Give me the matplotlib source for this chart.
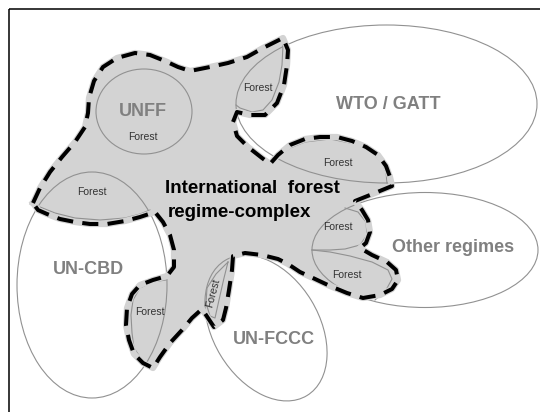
import matplotlib

matplotlib.use('Agg')

from matplotlib import pyplot as plt
from matplotlib.patches import Ellipse, Polygon

plt.rcParams['font.family'] = ['Liberation Sans', 'DejaVu Sans']

# 전체 regime-complex 경계 (픽셀 좌표, y는 아래로)
complex_x = [33, 40, 50, 62, 75, 85, 88, 89, 94, 103, 117, 135, 150, 165, 178, 190, 210, 228, 247, 263,
             283, 288, 287, 284, 277, 265, 250, 237, 233, 237, 248, 262, 270, 278, 290, 305, 320, 337,
             352, 366, 378, 386, 390, 392, 375, 355, 362, 368, 370, 366, 360, 372, 387, 396, 398, 392,
             380, 363, 347, 330, 313, 300, 288, 278, 262, 245, 233, 232, 229, 226, 223, 214, 208, 202,
             192, 182, 170, 160, 153, 143, 134, 129, 126, 127, 132, 140, 153, 167, 174, 174, 170, 163,
             155, 140, 125, 107, 90, 75, 60, 47, 38]
complex_y = [203, 188, 172, 157, 142, 127, 113, 98, 81, 67, 58, 53, 55, 61, 67, 71, 67, 63, 57, 48,
             38, 50, 65, 85, 103, 115, 115, 112, 122, 136, 147, 158, 164, 155, 145, 139, 137, 137,
             141, 147, 155, 166, 177, 186, 193, 201, 210, 220, 232, 243, 248, 255, 262, 270, 280, 289,
             295, 298, 293, 286, 278, 272, 264, 259, 255, 253, 256, 270, 290, 308, 320, 327, 318, 309,
             318, 330, 343, 357, 368, 363, 354, 340, 325, 308, 294, 285, 280, 276, 267, 250, 235, 222,
             212, 217, 221, 224, 224, 222, 219, 214, 210]

# regime 타원: 이름, 중심, 폭, 높이, 각도, 라벨 위치
regime_names = ['UNFF', 'WTO / GATT', 'UN-CBD', 'UN-FCCC', 'Other regimes']
regime_cx = [144, 386.5, 92, 266, 425]
regime_cy = [111.5, 104, 285, 328, 250]
regime_w = [96, 301, 150, 158, 226]
regime_h = [85, 158, 226, 106, 115]
regime_angle = [0, 0, 0, 58.8, 0]
label_x = [143, 388, 88, 274, 453]
label_y = [111, 104, 270, 339, 248]

# Forest 렌즈 경계선 (타원 호 이외의 부분)
lens_lines = [
    ([40, 55, 75, 100, 125, 140, 150], [207, 213, 218, 220, 218, 214, 210]),
    ([283, 282, 279, 272, 263, 252, 240, 236], [45, 65, 82, 100, 110, 112, 108, 105]),
    ([278, 290, 305, 330, 355, 372, 382, 386, 387], [157, 148, 142, 139, 144, 152, 163, 172, 183]),
    ([345, 358, 366, 367, 360, 345, 330, 312], [208, 212, 222, 235, 245, 249, 250, 250]),
    ([312, 330, 350, 372, 388, 392, 386, 375], [250, 252, 256, 262, 270, 279, 290, 300]),
    ([228, 224, 219, 215, 210, 206, 207, 216, 228], [262, 278, 300, 318, 316, 303, 288, 274, 262]),
    ([166, 152, 140, 133, 131, 132, 134, 140, 146], [280, 282, 288, 300, 315, 333, 348, 357, 363]),
]

# Forest 글자 위치와 회전
forest_x = [143, 92, 258, 338, 338, 347, 150, 213]
forest_y = [137, 192, 88, 163, 227, 275, 312, 293]
forest_rot = [0, 0, 0, 0, 0, 0, 0, 75]

fig = plt.figure(figsize=(5.4, 4.12), dpi=100)
ax = fig.add_axes([0, 0, 1, 1])
ax.set_xlim(0, 540)
ax.set_ylim(412, 0)
ax.axis('off')

# 테두리
ax.plot([9, 9], [412, 9], color='black', lw=1.1, solid_capstyle='butt')
ax.plot([9, 540], [9, 9], color='black', lw=1.1, solid_capstyle='butt')

# 회색 영역
pts = list(zip(complex_x, complex_y))
ax.add_patch(Polygon(pts, closed=True, facecolor='#d3d3d3', edgecolor='none', zorder=1))

# 타원들
for i in range(len(regime_names)):
    ax.add_patch(Ellipse((regime_cx[i], regime_cy[i]), regime_w[i], regime_h[i], angle=regime_angle[i],
                         facecolor='none', edgecolor='#919191', lw=0.8, zorder=2))
    ax.text(label_x[i], label_y[i], regime_names[i], color='#808080', fontsize=13, fontweight='bold',
            ha='center', va='center', zorder=5)

for lx, ly in lens_lines:
    ax.plot(lx, ly, color='#919191', lw=0.8, zorder=2)

# 점선 경계
bx = complex_x + [complex_x[0]]
by = complex_y + [complex_y[0]]
ax.plot(bx, by, color='#d3d3d3', lw=4.5, zorder=3, solid_joinstyle='round')
ax.plot(bx, by, color='black', lw=2.9, linestyle=(0, (4, 2.3)), dash_capstyle='butt', zorder=4)

for i in range(len(forest_x)):
    ax.text(forest_x[i], forest_y[i], 'Forest', color='#333333', fontsize=7.5, rotation=forest_rot[i],
            ha='center', va='center', zorder=5)

ax.text(252, 188, 'International  forest', color='black', fontsize=13.5, fontweight='bold',
        ha='center', va='center', zorder=5)
ax.text(239, 212, 'regime-complex', color='black', fontsize=13.5, fontweight='bold',
        ha='center', va='center', zorder=5)

plt.savefig('out.png', dpi=100)
plt.close()
